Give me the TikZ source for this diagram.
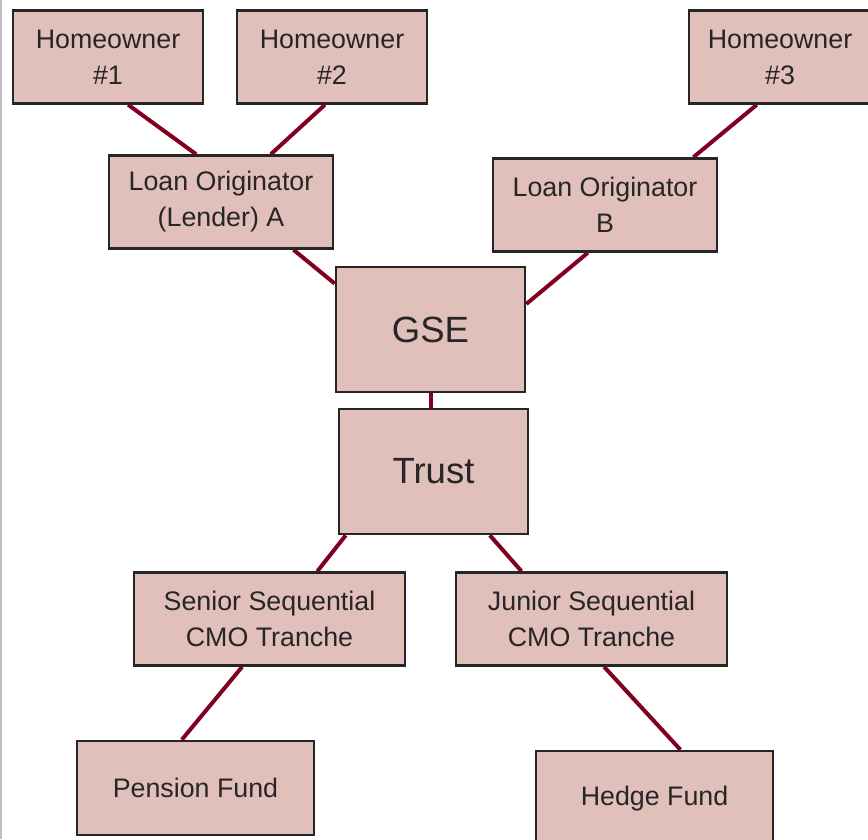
\documentclass[tikz,border=0pt]{standalone}
\usepackage{fontspec}
\setmainfont{Liberation Sans}
\usetikzlibrary{calc, backgrounds}
\definecolor{boxfill}{RGB}{225,192,187}
\definecolor{linkred}{RGB}{128,0,34}
\definecolor{edgegray}{RGB}{38,38,38}
\tikzset{
  party/.style={draw=edgegray, line width=2.6pt, fill=boxfill, text=black!85,
                font=\fontsize{26.8}{36}\selectfont, align=center, inner sep=0pt,
                minimum width=190pt, minimum height=93pt},
  hub/.style={party, font=\fontsize{36.5}{40}\selectfont, minimum width=189pt,
              minimum height=125pt},
  link/.style={linkred, line width=4pt}
}

\begin{document}
\begin{tikzpicture}[x=1pt,y=-1pt]
\useasboundingbox (0,0) rectangle (868,839);

% ── Page edge ────────────────────────────────────────────────────────────────
\draw[black!25, line width=2pt] (1,0) -- (1,839);

% ── Homeowners ───────────────────────────────────────────────────────────────
\node[party] (ho1) at (108,57) {Homeowner\\\#1};
\node[party] (ho2) at (332,57) {Homeowner\\\#2};
\node[party, minimum width=182pt] (ho3) at (780,57) {Homeowner\\\#3};

% ── Originators ──────────────────────────────────────────────────────────────
\node[party, minimum width=224pt] (loanA) at (221,202) {Loan Originator\\(Lender) A};
\node[party, minimum width=224pt] (loanB) at (605,205) {Loan Originator\\B};

% ── GSE and trust ────────────────────────────────────────────────────────────
\node[hub] (gse) at (430.5,329.5) {GSE};
\node[hub] (trust) at (433.5,471.5) {Trust};

% ── Tranches ─────────────────────────────────────────────────────────────────
\node[party, minimum width=271pt] (senior) at (269.5,619) {Senior Sequential\\CMO Tranche};
\node[party, minimum width=271pt] (junior) at (591.5,619) {Junior Sequential\\CMO Tranche};

% ── Investors ────────────────────────────────────────────────────────────────
\node[party, minimum width=237pt, minimum height=94pt] (pension) at (195.5,788) {Pension Fund};
\node[party, minimum width=237pt, minimum height=95pt] (hedge) at (654.5,798.5) {Hedge Fund};

% ── Links (behind the boxes) ─────────────────────────────────────────────────
\begin{scope}[on background layer]
  \draw[link] ($(ho1.south west)!0.605!(ho1.south east)$)
           -- ($(loanA.north west)!0.39!(loanA.north east)$);
  \draw[link] ($(ho2.south west)!0.463!(ho2.south east)$)
           -- ($(loanA.north west)!0.72!(loanA.north east)$);
  \draw[link] ($(ho3.south west)!0.374!(ho3.south east)$)
           -- ($(loanB.north west)!0.89!(loanB.north east)$);
  \draw[link] ($(loanA.south west)!0.82!(loanA.south east)$)
           -- ($(gse.north west)!0.14!(gse.south west)$);
  \draw[link] ($(loanB.south west)!0.424!(loanB.south east)$)
           -- ($(gse.north east)!0.3!(gse.south east)$);
  \draw[link] (gse.south) -- (trust.north -| gse.south);
  \draw[link] ($(trust.south west)!0.042!(trust.south east)$)
           -- ($(senior.north west)!0.675!(senior.north east)$);
  \draw[link] ($(trust.south west)!0.794!(trust.south east)$)
           -- ($(junior.north west)!0.244!(junior.north east)$);
  \draw[link] ($(senior.south west)!0.4!(senior.south east)$)
           -- ($(pension.north west)!0.443!(pension.north east)$);
  \draw[link] ($(junior.south west)!0.546!(junior.south east)$)
           -- ($(hedge.north west)!0.608!(hedge.north east)$);
\end{scope}

\end{tikzpicture}
\end{document}
